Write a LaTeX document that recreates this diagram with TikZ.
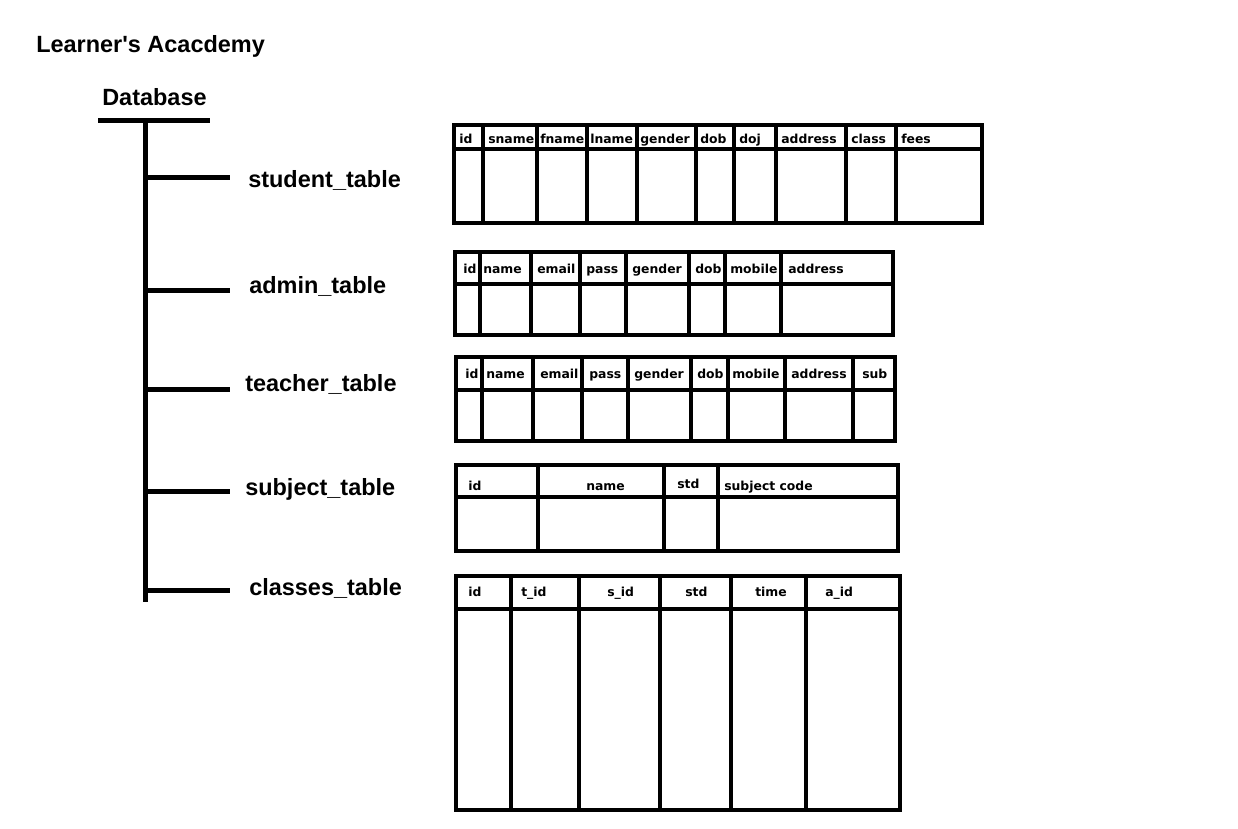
\documentclass[tikz,border=0pt]{standalone}
\usepackage{fontspec}
\setmainfont{Liberation Sans}[Ligatures=TeXOff]
\newfontfamily\hdrfont{DejaVu Sans}
\begin{document}
\begin{tikzpicture}[x=0.75pt,y=-0.75pt,
  tline/.style={line width=3.75pt},
  tbl/.style={line width=3.4pt},
  big/.style={font=\bfseries\fontsize{17.6}{20}\selectfont, inner sep=0pt, anchor=base west},
  hdr/.style={font=\hdrfont\bfseries\fontsize{9.3}{11}\selectfont, inner sep=0pt, anchor=base west}]
\useasboundingbox[fill=white] (0,0) rectangle (1238,828);

% titles
\node[big] (title) at (36,52) {Learner's Acacdemy};
\node[big] (db) at (102,105) {Database};

% tree
\coordinate (dbl) at (98,120);
\coordinate (dbr) at (210,120);
\coordinate (ttop) at (145,122);
\coordinate (tbot) at (145,602);
\draw[tline] (dbl) -- (dbr);
\draw[tline] (ttop) -- (tbot);
\foreach \y/\n in {177/1, 290/2, 389/3, 491/4, 590/5} {
  \coordinate (bs\n) at (145,\y);
  \coordinate (be\n) at (230,\y);
  \draw[tline] (bs\n) -- (be\n);
}
\node[big] (st) at (248,187) {student\_table};
\node[big] (at) at (249,293) {admin\_table};
\node[big] (tt) at (245,391) {teacher\_table};
\node[big] (sut) at (245,495) {subject\_table};
\node[big] (ct) at (249,595) {classes\_table};

% student table
\draw[tbl] (454,125) rectangle (982,223);
\draw[tbl] (454,149) -- (982,149);
\foreach \x in {483,537,587,637,696,734,776,846,896} \draw[tbl] (\x,125) -- (\x,223);
\foreach \x/\t in {459/id, 488/sname, 540/fname, 590/lname, 640/gender, 700/dob, 739/doj, 781/address, 851/class, 901/fees}
  \node[hdr] at (\x,143) {\t};

% admin table
\draw[tbl] (455,252) rectangle (893,335);
\draw[tbl] (455,284) -- (893,284);
\foreach \x in {480,531,580,626,689,725,781} \draw[tbl] (\x,252) -- (\x,335);
\foreach \x/\t in {463/id, 483/name, 537/email, 586/pass, 632/gender, 695/dob, 730/mobile, 788/address}
  \node[hdr] at (\x,273) {\t};

% teacher table
\draw[tbl] (456,357) rectangle (895,441);
\draw[tbl] (456,390) -- (895,390);
\foreach \x in {482,533,582,628,691,728,785,853} \draw[tbl] (\x,357) -- (\x,441);
\foreach \x/\t in {465/id, 486/name, 540/email, 589/pass, 634/gender, 697/dob, 732/mobile, 791/address, 862/sub}
  \node[hdr] at (\x,378) {\t};

% subject table
\draw[tbl] (456,465) rectangle (898,551);
\draw[tbl] (456,497) -- (898,497);
\foreach \x in {538,664,718} \draw[tbl] (\x,465) -- (\x,551);
\node[hdr] at (468,490) {id};
\node[hdr] at (586,490) {name};
\node[hdr] at (677,488) {std};
\node[hdr] at (724,490) {subject code};

% classes table
\draw[tbl] (456,576) rectangle (900,810);
\draw[tbl] (456,609) -- (900,609);
\foreach \x in {511,579,660,731,806} \draw[tbl] (\x,576) -- (\x,810);
\foreach \x/\t in {468/id, 521/t\_id, 607/s\_id, 685/std, 755/time, 825/a\_id}
  \node[hdr] at (\x,596) {\t};
\end{tikzpicture}
\end{document}
